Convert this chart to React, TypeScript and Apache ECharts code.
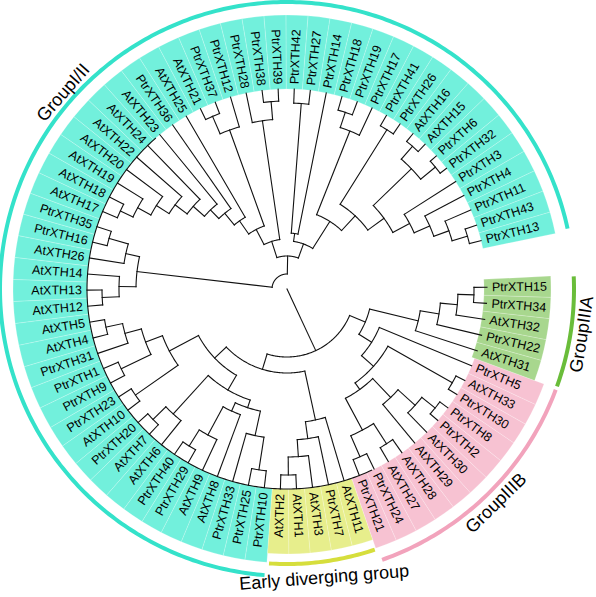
import { useEffect, useRef } from "react";
import * as echarts from "echarts";

// ---------- DATA: tree topology, node depth after ':' (tip depth = 100) ----------
const cladeRight =
  "(((((((PtrXTH13,PtrXTH43):94,PtrXTH11):86,PtrXTH4):78,PtrXTH3):69.5,((PtrXTH32,PtrXTH6):96,(AtXTH15,AtXTH16):95):86.5):60,(PtrXTH26,PtrXTH41):94):50,(PtrXTH17,(PtrXTH19,PtrXTH18):93):85):40";
const cladeTop = "(PtrXTH14,(PtrXTH27,PtrXTH42):93):28";
const cladeTopLeft =
  "(((PtrXTH39,PtrXTH38):94,PtrXTH28):85,((PtrXTH12,(PtrXTH37,AtXTH21):94):84.5,(AtXTH25,(PtrXTH36,(AtXTH23,(AtXTH24,(AtXTH22,(AtXTH20,(AtXTH19,(AtXTH18,AtXTH17):92):85):77.5):70):62.5):55):49):41.5):33.5):25";
const cladeLeft =
  "(((PtrXTH35,PtrXTH16):92.5,AtXTH26):82.5,(AtXTH14,(AtXTH13,AtXTH12):92.5):84):75.5";
const cladeLowerLeft =
  "((((AtXTH5,AtXTH4):92.5,PtrXTH31):84,(PtrXTH1,PtrXTH9):92):75.5,(PtrXTH23,AtXTH10):92.5):66.5";
const cladeBottom =
  "(((PtrXTH20,AtXTH7):93.5,AtXTH6):84.5,((((PtrXTH40,PtrXTH29):92.5,AtXTH9):83,AtXTH8):67,(PtrXTH33,(PtrXTH25,PtrXTH10):91.5):75):62.5):58.5";
const cladeEarly = "((((AtXTH2,AtXTH1):93,AtXTH3):84,PtrXTH7):75.5,AtXTH11):67";
const cladeIIIB =
  "(((((PtrXTH21,PtrXTH24):91.5,(AtXTH27,AtXTH28):92):80,(AtXTH29,(AtXTH30,(PtrXTH2,PtrXTH8):95):86.5):75):62,(PtrXTH30,AtXTH33):95):58,PtrXTH5):50";
const cladeIIIA = "(AtXTH31,(PtrXTH22,(AtXTH32,(PtrXTH34,PtrXTH15):93.5):85.5):77):67.5";

const treeNewick =
  `((((${cladeRight},${cladeTop}):24,${cladeTopLeft}):16.5,${cladeLeft}):7.5,` +
  `((((${cladeLowerLeft},${cladeBottom}):50,${cladeEarly}):42,(${cladeIIIB},${cladeIIIA}):42.5):34):0`;

const groupNames = ["GroupI/II", "Early diverging group", "GroupIIIB", "GroupIIIA"];
const groupFirstLeaf = ["PtrXTH13", "AtXTH2", "PtrXTH21", "AtXTH31"];
const groupLastLeaf = ["PtrXTH10", "AtXTH11", "PtrXTH5", "PtrXTH15"];

// ---------- STYLE ----------
const TIP_DEPTH = 100;
const LABEL_R = 102.5;
const BAND_IN = [100, 100, 100, 98.5];
const BAND_OUT = [137, 132.5, 137, 132];
const GROUP_ARC_R = [143.5, 137.5, 143.5, 143.5];
const GROUP_LABEL_R = [149, 145.3, 149.5, 149];
const GROUP_LABEL_ROT_DEG: (number | null)[] = [null, 4.5, null, null];
const bandColors = ["#72F0DC", "#E7EE8C", "#F7C2D2", "#A8D78E"];
const arcColors = ["#34E2CA", "#D6DE3C", "#F2A3BC", "#6ABD3A"];
const FONT = '"Liberation Sans", Arial, Helvetica, sans-serif';

type TNode = { name?: string; depth: number; children: TNode[]; angle: number };

function parseNewick(src: string): TNode {
  const s = src.replace(/\s+/g, "");
  let i = 0;
  function parse(): TNode {
    const node: TNode = { depth: TIP_DEPTH, children: [], angle: 0 };
    if (s[i] === "(") {
      i++;
      node.children.push(parse());
      while (s[i] === ",") {
        i++;
        node.children.push(parse());
      }
      i++;
    } else {
      let n = "";
      while (i < s.length && !",():;".includes(s[i])) n += s[i++];
      node.name = n;
    }
    if (s[i] === ":") {
      i++;
      let num = "";
      while (i < s.length && /[0-9.]/.test(s[i])) num += s[i++];
      node.depth = parseFloat(num);
    }
    return node;
  }
  return parse();
}

const root = parseNewick(treeNewick);
const leaves: TNode[] = [];
function layout(n: TNode) {
  if (!n.children.length) {
    n.angle = leaves.length;
    leaves.push(n);
  } else {
    n.children.forEach(layout);
    n.angle = (n.children[0].angle + n.children[n.children.length - 1].angle) / 2;
  }
}
layout(root);

const treeData: number[][] = [];
function collect(n: TNode, parentDepth: number) {
  const hasKids = n.children.length > 0;
  treeData.push([
    n.depth,
    n.angle,
    parentDepth,
    hasKids ? n.children[0].angle : n.angle,
    hasKids ? n.children[n.children.length - 1].angle : n.angle,
  ]);
  n.children.forEach((c) => collect(c, n.depth));
}
collect(root, root.depth);

const leafIndex = (name: string) => leaves.findIndex((l) => l.name === name);
const groupRanges = groupNames.map((_, g) => [leafIndex(groupFirstLeaf[g]), leafIndex(groupLastLeaf[g])]);
const groupOfLeaf = leaves.map((_, i) => groupRanges.findIndex((r) => i >= r[0] && i <= r[1]));

const STEP = 4.62;

function polarInfo(api: any, r: number, a: number) {
  const c = api.coord([0, a]);
  const p = api.coord([r, a]);
  const theta = Math.atan2(c[1] - p[1], p[0] - c[0]);
  const rad = Math.hypot(p[0] - c[0], p[1] - c[1]);
  return { c, p, theta, rad };
}

function arcPoints(api: any, r: number, a0: number, a1: number) {
  const n = Math.max(2, Math.ceil(Math.abs(a1 - a0) * 6));
  const pts: number[][] = [];
  for (let k = 0; k <= n; k++) pts.push(api.coord([r, a0 + ((a1 - a0) * k) / n]));
  return pts;
}

export default function App() {
  const ref = useRef<HTMLDivElement>(null);
  useEffect(() => {
    const chart = echarts.init(ref.current!, null, { renderer: "svg" });
    const option: any = {
      animation: false,
      backgroundColor: "#ffffff",
      polar: { center: [287, 289], radius: [0, 274] },
      angleAxis: {
        type: "value",
        min: 0,
        max: 360 / STEP,
        startAngle: 14,
        clockwise: false,
        show: false,
      },
      radiusAxis: { type: "value", min: 0, max: 137, show: false },
      series: [
        {
          type: "custom",
          name: "bands",
          coordinateSystem: "polar",
          silent: true,
          data: leaves.map((_, i) => [TIP_DEPTH, i, groupOfLeaf[i]]),
          renderItem: (params: any, api: any) => {
            const a = api.value(1);
            const g = api.value(2);
            const inner = polarInfo(api, BAND_IN[g], a);
            const outer = polarInfo(api, BAND_OUT[g], a);
            const t1 = polarInfo(api, BAND_IN[g], a - 0.5).theta;
            let t2 = polarInfo(api, BAND_IN[g], a + 0.5).theta;
            if (t2 < t1) t2 += Math.PI * 2;
            return {
              type: "sector",
              shape: {
                cx: inner.c[0],
                cy: inner.c[1],
                r0: inner.rad,
                r: outer.rad,
                startAngle: -t2,
                endAngle: -t1,
                clockwise: true,
              },
              style: { fill: bandColors[g], stroke: "rgba(255,255,255,0.35)", lineWidth: 0.6 },
            };
          },
        },
        {
          type: "custom",
          name: "tree",
          coordinateSystem: "polar",
          silent: true,
          data: treeData,
          renderItem: (params: any, api: any) => {
            const d = api.value(0);
            const a = api.value(1);
            const pd = api.value(2);
            const s = api.value(3);
            const e = api.value(4);
            const children: any[] = [];
            const st = { stroke: "#111111", lineWidth: 1.1, fill: "none", lineCap: "square" };
            if (d > pd) {
              children.push({
                type: "polyline",
                shape: { points: [api.coord([pd, a]), api.coord([d, a])] },
                style: st,
              });
            }
            if (e > s && d > 0) {
              children.push({ type: "polyline", shape: { points: arcPoints(api, d, s, e) }, style: st });
            }
            return { type: "group", children };
          },
        },
        {
          type: "custom",
          name: "labels",
          coordinateSystem: "polar",
          silent: true,
          data: leaves.map((_, i) => [LABEL_R, i]),
          renderItem: (params: any, api: any) => {
            const a = api.value(1);
            const { p, theta } = polarInfo(api, LABEL_R, a);
            const right = Math.cos(theta) >= -1e-6;
            return {
              type: "text",
              x: p[0],
              y: p[1],
              rotation: right ? theta : theta - Math.PI,
              style: {
                text: leaves[params.dataIndex].name,
                fill: "#000000",
                fontSize: 12.5,
                fontFamily: FONT,
                align: right ? "left" : "right",
                verticalAlign: "middle",
              },
            };
          },
        },
        {
          type: "custom",
          name: "groupArcs",
          coordinateSystem: "polar",
          silent: true,
          data: groupRanges.map((r, g) => [GROUP_ARC_R[g], r[0] - 0.4, r[1] + 0.44, g]),
          renderItem: (params: any, api: any) => {
            const g = api.value(3);
            return {
              type: "polyline",
              shape: { points: arcPoints(api, api.value(0), api.value(1), api.value(2)) },
              style: { stroke: arcColors[g], lineWidth: 4, fill: "none" },
            };
          },
        },
        {
          type: "custom",
          name: "groupLabels",
          coordinateSystem: "polar",
          silent: true,
          data: groupRanges.map((r, g) => [GROUP_LABEL_R[g], (r[0] + r[1]) / 2, g]),
          renderItem: (params: any, api: any) => {
            const g = api.value(2);
            const { p, theta } = polarInfo(api, api.value(0), api.value(1));
            const tangent = Math.sin(theta) >= 0 ? theta - Math.PI / 2 : theta + Math.PI / 2;
            const fixed = GROUP_LABEL_ROT_DEG[g];
            const rot = fixed == null ? tangent : (fixed * Math.PI) / 180;
            return {
              type: "text",
              x: p[0],
              y: p[1],
              rotation: rot,
              style: {
                text: groupNames[g],
                fill: "#000000",
                fontSize: 18,
                fontFamily: FONT,
                align: "center",
                verticalAlign: "middle",
              },
            };
          },
        },
      ],
    };
    chart.setOption(option);
    return () => chart.dispose();
  }, []);
  return (
    <div
      ref={ref}
      style={{ position: "fixed", left: 0, top: 0, width: 596, height: 597, background: "#fff" }}
    />
  );
}
